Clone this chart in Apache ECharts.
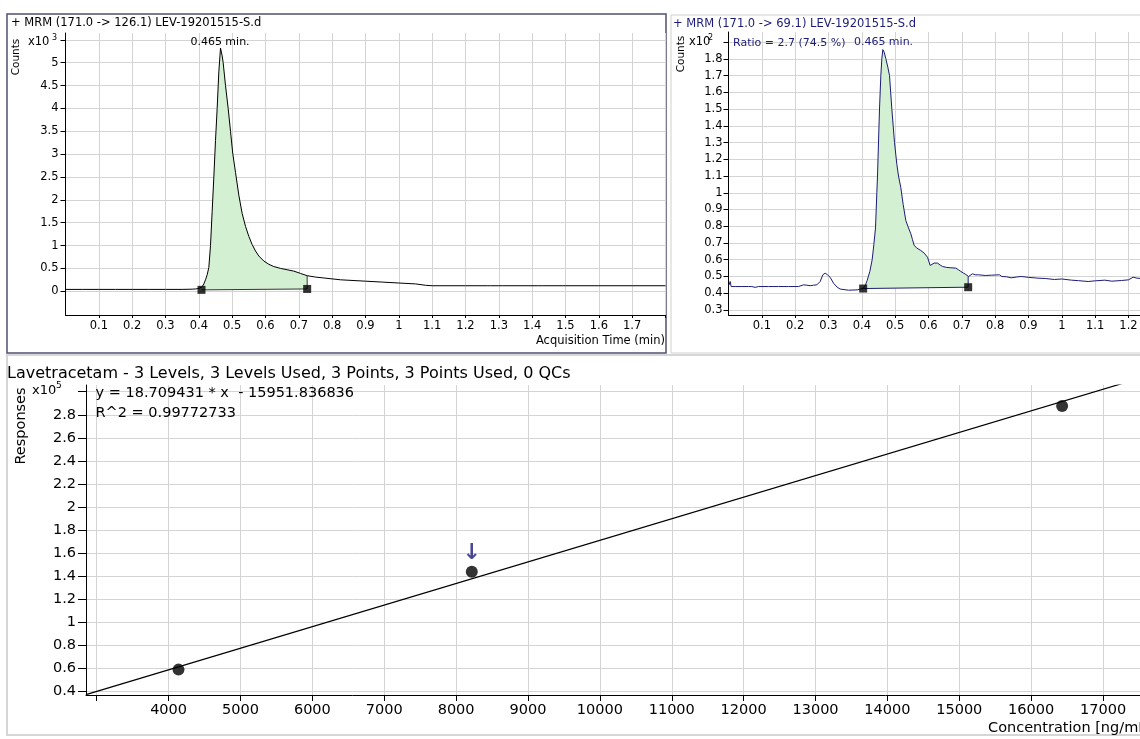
<!DOCTYPE html>
<html><head><meta charset="utf-8">
<script src="https://cdn.jsdelivr.net/npm/echarts@6/dist/echarts.min.js"></script>
<style>html,body{margin:0;padding:0;background:#fff;overflow:hidden;width:1140px;height:739px}#c{width:1340px;height:739px}</style>
</head><body><div id="c"></div>
<script>
// ---------- DATA ----------
// Quantifier MRM (171.0 -> 126.1): [time (min), counts x10^3]
const quantTrace = [
 [0.00,0.04],[0.05,0.04],[0.10,0.04],[0.15,0.04],[0.20,0.04],[0.25,0.04],[0.30,0.04],[0.35,0.04],
 [0.38,0.045],[0.39,0.05],[0.40,0.06],[0.405,0.07],[0.41,0.1],[0.415,0.16],[0.42,0.25],[0.425,0.36],
 [0.43,0.52],[0.435,1.0],[0.44,1.75],[0.445,2.5],[0.45,3.3],[0.455,4.0],[0.46,4.8],[0.465,5.32],
 [0.47,5.15],[0.473,5.0],[0.48,4.5],[0.488,4.0],[0.495,3.5],[0.502,3.0],[0.51,2.6],[0.52,2.1],
 [0.53,1.7],[0.54,1.42],[0.55,1.2],[0.56,1.02],[0.57,0.88],[0.58,0.77],[0.595,0.66],[0.61,0.59],
 [0.625,0.54],[0.645,0.5],[0.665,0.47],[0.685,0.44],[0.705,0.39],[0.725,0.34],[0.75,0.31],[0.775,0.29],
 [0.825,0.25],[0.9,0.22],[0.95,0.2],[1.0,0.18],[1.05,0.16],[1.08,0.13],[1.1,0.12],[1.2,0.12],
 [1.265,0.12],[1.27,0.14],[1.275,0.12],[1.3,0.12],[1.305,0.14],[1.31,0.12],[1.42,0.12],[1.425,0.14],
 [1.43,0.12],[1.49,0.12],[1.495,0.14],[1.5,0.12],[1.6,0.12],[1.7,0.12],[1.8,0.12]
];
const quantBaseline = [[0.408,0.03],[0.725,0.05]];
const quantEndTop = 0.34;

// Qualifier MRM (171.0 -> 69.1): [time (min), counts x10^2]
const qualTrace = [
 [0.002,0.45],[0.005,0.47],[0.008,0.44],[0.02,0.44],[0.04,0.44],[0.06,0.44],[0.07,0.44],[0.075,0.43],
 [0.08,0.435],[0.09,0.44],[0.12,0.44],[0.15,0.44],[0.18,0.44],[0.21,0.44],[0.225,0.45],[0.235,0.448],
 [0.245,0.445],[0.255,0.448],[0.265,0.45],[0.275,0.47],[0.283,0.51],[0.29,0.52],[0.297,0.51],[0.305,0.495],
 [0.315,0.46],[0.326,0.436],[0.335,0.425],[0.341,0.42],[0.36,0.418],[0.386,0.42],[0.395,0.425],[0.404,0.43],
 [0.41,0.445],[0.416,0.476],[0.424,0.53],[0.431,0.6],[0.436,0.69],[0.441,0.79],[0.445,1.0],[0.447,1.1],
 [0.453,1.5],[0.457,1.7],[0.46,1.8],[0.463,1.855],[0.467,1.84],[0.472,1.8],[0.478,1.75],[0.483,1.7],
 [0.49,1.5],[0.498,1.3],[0.505,1.17],[0.51,1.1],[0.517,1.03],[0.524,0.93],[0.532,0.834],[0.54,0.79],
 [0.547,0.755],[0.552,0.72],[0.557,0.685],[0.565,0.67],[0.577,0.655],[0.587,0.64],[0.597,0.615],[0.605,0.566],
 [0.61,0.57],[0.617,0.58],[0.627,0.58],[0.635,0.568],[0.642,0.56],[0.655,0.554],[0.667,0.552],[0.682,0.55],
 [0.69,0.54],[0.697,0.53],[0.705,0.52],[0.712,0.512],[0.72,0.5],[0.726,0.505],[0.732,0.516],[0.74,0.51],
 [0.75,0.51],[0.77,0.506],[0.79,0.508],[0.813,0.51],[0.82,0.5],[0.835,0.498],[0.848,0.492],[0.865,0.497],
 [0.878,0.5],[0.9,0.495],[0.928,0.49],[0.95,0.488],[0.978,0.482],[1.0,0.485],[1.029,0.478],[1.05,0.475],
 [1.079,0.47],[1.1,0.474],[1.129,0.478],[1.15,0.472],[1.179,0.476],[1.2,0.48],[1.214,0.496],[1.225,0.49],
 [1.24,0.488],[1.26,0.48],[1.28,0.478],[1.3,0.476]
];
const qualBaseline = [[0.404,0.428],[0.719,0.436]];
const qualEndTop = 0.5;

// Calibration
const calLevels = [4138, 8218, 16431];
const calResponses = [59100, 144000, 287500];
const calFlagged = 1;
const calFitLine = [[2851, 37390],[17681, 314850]];

// Ticks
const quantXTicks = [0.1,0.2,0.3,0.4,0.5,0.6,0.7,0.8,0.9,1.0,1.1,1.2,1.3,1.4,1.5,1.6,1.7,1.8];
const quantXLabels = [0.1,0.2,0.3,0.4,0.5,0.6,0.7,0.8,0.9,1.0,1.1,1.2,1.3,1.4,1.5,1.6,1.7];
const quantYTicks = [0,0.5,1,1.5,2,2.5,3,3.5,4,4.5,5,5.5];
const quantYLabels = [0,0.5,1,1.5,2,2.5,3,3.5,4,4.5,5];
const qualYTicks = [0.3,0.4,0.5,0.6,0.7,0.8,0.9,1.0,1.1,1.2,1.3,1.4,1.5,1.6,1.7,1.8,1.9];
const qualYLabels = [0.3,0.4,0.5,0.6,0.7,0.8,0.9,1.0,1.1,1.2,1.3,1.4,1.5,1.6,1.7,1.8];
const calXTicks = [3000,4000,5000,6000,7000,8000,9000,10000,11000,12000,13000,14000,15000,16000,17000];
const calXLabels = [4000,5000,6000,7000,8000,9000,10000,11000,12000,13000,14000,15000,16000,17000];
const calYTicks = [40000,60000,80000,100000,120000,140000,160000,180000,200000,220000,240000,260000,280000,300000];
const calYLabels = [40000,60000,80000,100000,120000,140000,160000,180000,200000,220000,240000,260000,280000];

// ---------- CHART ----------
const FONT = 'DejaVu Sans';
const GRID = '#d4d4d4';
const NAVY = '#1c1c78';
const GREEN = '#d4f0d2';
const fmt = v => String(parseFloat((+v).toFixed(3)));

function axis(type, gi, min, max, ticks, labels, o) {
  return {
    type: 'value', gridIndex: gi, min, max,
    axisLine: { show: true, onZero: false, lineStyle: { color: '#000', width: 1 } },
    axisTick: { show: true, inside: false, length: o.tick, customValues: ticks, lineStyle: { color: '#000' } },
    axisLabel: { customValues: labels, fontFamily: FONT, fontSize: o.fs, color: '#000', margin: o.margin, formatter: o.formatter || fmt },
    splitLine: { show: true, lineStyle: { color: GRID, width: 1 } }
  };
}

function interp(trace, x) {
  for (let i = 1; i < trace.length; i++) {
    if (trace[i][0] >= x) {
      const a = trace[i-1], b = trace[i];
      return a[1] + (b[1]-a[1]) * (x-a[0]) / (b[0]-a[0]);
    }
  }
  return trace[trace.length-1][1];
}

function fillSeries(xi, yi, trace, base) {
  return {
    type: 'custom', xAxisIndex: xi, yAxisIndex: yi, silent: true, z: 1,
    data: [base[0]],
    renderItem(params, api) {
      const x0 = base[0][0], x1 = base[1][0];
      const pts = [api.coord([x0, interp(trace, x0)])];
      trace.forEach(p => { if (p[0] > x0 && p[0] < x1) pts.push(api.coord(p)); });
      pts.push(api.coord([x1, interp(trace, x1)]));
      pts.push(api.coord(base[1]));
      pts.push(api.coord(base[0]));
      return { type: 'polygon', shape: { points: pts }, style: { fill: GREEN } };
    }
  };
}

function lineSeries(xi, yi, data, color, width, z) {
  return { type: 'line', xAxisIndex: xi, yAxisIndex: yi, data, showSymbol: false, symbol: 'none',
    lineStyle: { color, width }, z: z || 3, silent: true, clip: true };
}

function txt(x, y, text, o) {
  o = o || {};
  return { type: 'text', x, y, rotation: o.rot || 0, z: 10,
    style: { text, fill: o.color || '#000', font: (o.fs || 11) + 'px "' + FONT + '"',
      align: o.align || 'left', verticalAlign: 'middle' } };
}

const chart = echarts.init(document.getElementById('c'), null, { renderer: 'canvas' });

const option = {
  animation: false,
  backgroundColor: '#fff',
  grid: [
    { left: 65.5, top: 33, width: 600, height: 282 },
    { left: 728.5, top: 32, width: 600, height: 283 },
    { left: 86, top: 385, width: 1066, height: 310 }
  ],
  xAxis: [
    axis('x', 0, 0, 1.8, quantXTicks, quantXLabels, { tick: 3, fs: 11.5, margin: 5 }),
    axis('x', 1, 0, 1.8, quantXTicks, quantXLabels, { tick: 3, fs: 11.5, margin: 5.5 }),
    axis('x', 2, 2851, 17681, calXTicks, calXLabels, { tick: 6, fs: 14.5, margin: 8, formatter: v => String(Math.round(v)) })
  ],
  yAxis: [
    axis('y', 0, -0.52, 5.65, quantYTicks, quantYLabels, { tick: 5, fs: 11.5, margin: 7 }),
    axis('y', 1, 0.27, 1.96, qualYTicks, qualYLabels, { tick: 5, fs: 11.5, margin: 6 }),
    axis('y', 2, 37100, 305800, calYTicks, calYLabels, { tick: 8, fs: 14.5, margin: 10, formatter: v => String(parseFloat((v/1e5).toFixed(1))) })
  ],
  series: [
    fillSeries(0, 0, quantTrace, quantBaseline),
    lineSeries(0, 0, quantTrace, '#000', 1),
    lineSeries(0, 0, [quantBaseline[0], quantBaseline[1], [quantBaseline[1][0], quantEndTop]], '#333', 1),
    { type: 'scatter', xAxisIndex: 0, yAxisIndex: 0, data: quantBaseline, symbol: 'rect', symbolSize: 8, itemStyle: { color: '#000' }, z: 5, silent: true },

    fillSeries(1, 1, qualTrace, qualBaseline),
    lineSeries(1, 1, qualTrace, NAVY, 1),
    lineSeries(1, 1, [qualBaseline[0], qualBaseline[1], [qualBaseline[1][0], qualEndTop]], NAVY, 1),
    { type: 'scatter', xAxisIndex: 1, yAxisIndex: 1, data: qualBaseline, symbol: 'rect', symbolSize: 8, itemStyle: { color: '#000' }, z: 5, silent: true },

    lineSeries(2, 2, calFitLine, '#000', 1.2),
    { type: 'scatter', xAxisIndex: 2, yAxisIndex: 2, symbol: 'circle', symbolSize: 12, itemStyle: { color: '#000' }, z: 5, silent: true,
      data: calLevels.map((x, i) => ({ value: [x, calResponses[i]],
        label: i === calFlagged ? { show: true, position: 'top', distance: 1, formatter: '\u2193', color: NAVY, fontSize: 22, fontWeight: 'bold', fontFamily: FONT } : { show: false } })) }
  ],
  graphic: [
    { type: 'rect', z: 0, shape: { x: 7, y: 14, width: 659, height: 339 }, style: { fill: 'none', stroke: '#505072', lineWidth: 1.5 } },
    { type: 'rect', z: 0, shape: { x: 671, y: 15, width: 480, height: 338 }, style: { fill: 'none', stroke: '#cfcfcf', lineWidth: 1 } },
    { type: 'rect', z: 0, shape: { x: 7, y: 355, width: 1145, height: 380 }, style: { fill: 'none', stroke: '#d6d6d6', lineWidth: 2 } },

    txt(11, 23, '+ MRM (171.0 -> 126.1) LEV-19201515-S.d', { fs: 11.5 }),
    txt(16, 57, 'Counts', { fs: 10.5, rot: Math.PI / 2, align: 'center' }),
    txt(28, 42, 'x10', { fs: 11.5 }),
    txt(52, 38, '3', { fs: 8 }),
    txt(220, 42, '0.465 min.', { fs: 11, align: 'center' }),
    txt(665, 341, 'Acquisition Time (min)', { fs: 11.5, align: 'right' }),

    txt(673, 24, '+ MRM (171.0 -> 69.1) LEV-19201515-S.d', { fs: 11.5, color: NAVY }),
    txt(681.5, 54, 'Counts', { fs: 10.5, rot: Math.PI / 2, align: 'center' }),
    txt(689, 42, 'x10', { fs: 11.5 }),
    txt(708, 38, '2', { fs: 8 }),
    txt(733, 43, 'Ratio = 2.7 (74.5 %)', { fs: 11, color: NAVY }),
    txt(883.5, 42, '0.465 min.', { fs: 11, color: NAVY, align: 'center' }),

    txt(7, 374, 'Lavetracetam - 3 Levels, 3 Levels Used, 3 Points, 3 Points Used, 0 QCs', { fs: 16 }),
    txt(21, 426, 'Responses', { fs: 14.5, rot: Math.PI / 2, align: 'center' }),
    txt(32, 391, 'x10', { fs: 13 }),
    txt(56, 386, '5', { fs: 9 }),
    txt(95.5, 393, 'y = 18.709431 * x  - 15951.836836', { fs: 14.5 }),
    txt(95.5, 413, 'R^2 = 0.99772733', { fs: 14.5 }),
    txt(1152, 728, 'Concentration [ng/mL]', { fs: 14.5, align: 'right' })
  ]
};
chart.setOption(option);
</script>
</body></html>
